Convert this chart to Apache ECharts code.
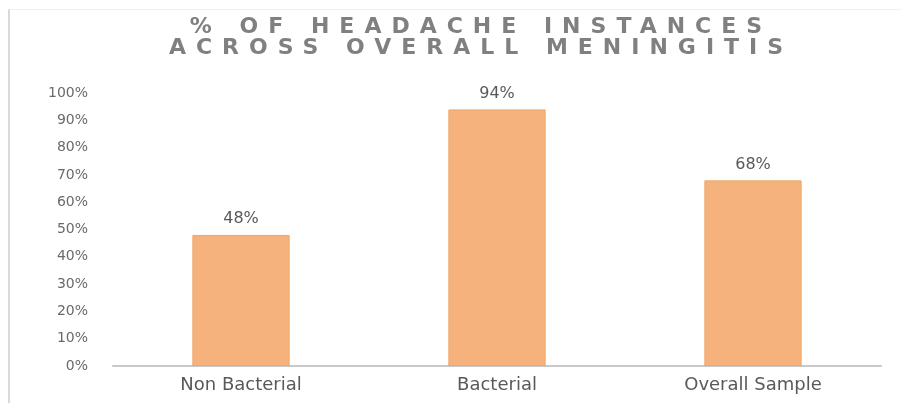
<!DOCTYPE html>
<html>
<head>
<meta charset="utf-8">
<script src="https://cdn.jsdelivr.net/npm/echarts@6/dist/echarts.min.js"></script>
<style>
  html, body { margin: 0; padding: 0; background: #ffffff; }
  #wrap { position: relative; width: 901px; height: 403px; overflow: hidden; }
  #chart { position: absolute; left: 0; top: 0; width: 901px; height: 403px; }
  #frame { position: absolute; left: 8px; top: 9px; width: 900px; height: 400px;
           border-left: 2px solid #d9d9d9; border-top: 1px solid #f0f0f0; }
  #title { position: absolute; left: 0; width: 962px; top: 15px; text-align: center;
           font-family: "DejaVu Sans", sans-serif; font-weight: bold; font-size: 22px;
           line-height: 21px; letter-spacing: 10px; color: #808080; }
</style>
</head>
<body>
<div id="wrap">
  <div id="frame"></div>
  <div id="chart"></div>
  <div id="title">% OF HEADACHE INSTANCES<br>ACROSS OVERALL MENINGITIS</div>
</div>
<script>
// Share of headache instances by meningitis group
const categories = ['Non Bacterial', 'Bacterial', 'Overall Sample'];
const headacheShare = [48, 94, 68];
const yTicks = [0, 10, 20, 30, 40, 50, 60, 70, 80, 90, 100];

const chart = echarts.init(document.getElementById('chart'), null, { renderer: 'canvas' });

chart.setOption({
  animation: false,
  backgroundColor: 'transparent',
  grid: { left: 113, right: 20, top: 93, bottom: 37 },
  xAxis: {
    type: 'category',
    data: categories,
    axisLine: { show: true, lineStyle: { color: '#c8c8c8', width: 2 } },
    axisTick: { show: false },
    axisLabel: {
      color: '#595959',
      fontFamily: 'DejaVu Sans',
      fontSize: 18,
      margin: 10
    }
  },
  yAxis: {
    type: 'value',
    min: yTicks[0],
    max: yTicks[yTicks.length - 1],
    interval: 10,
    axisLine: { show: false },
    axisTick: { show: false },
    splitLine: { show: false },
    axisLabel: {
      color: '#6a6a6a',
      fontFamily: 'DejaVu Sans',
      fontSize: 14,
      margin: 25,
      formatter: v => v + '%'
    }
  },
  series: [{
    type: 'bar',
    data: headacheShare,
    barWidth: '38%',
    itemStyle: {
      color: '#f5b27c',
      borderColor: '#f0a865',
      borderWidth: 1
    },
    label: {
      show: true,
      position: 'top',
      distance: 8,
      color: '#595959',
      fontFamily: 'DejaVu Sans',
      fontSize: 16,
      formatter: p => p.value + '%'
    }
  }]
});
</script>
</body>
</html>
